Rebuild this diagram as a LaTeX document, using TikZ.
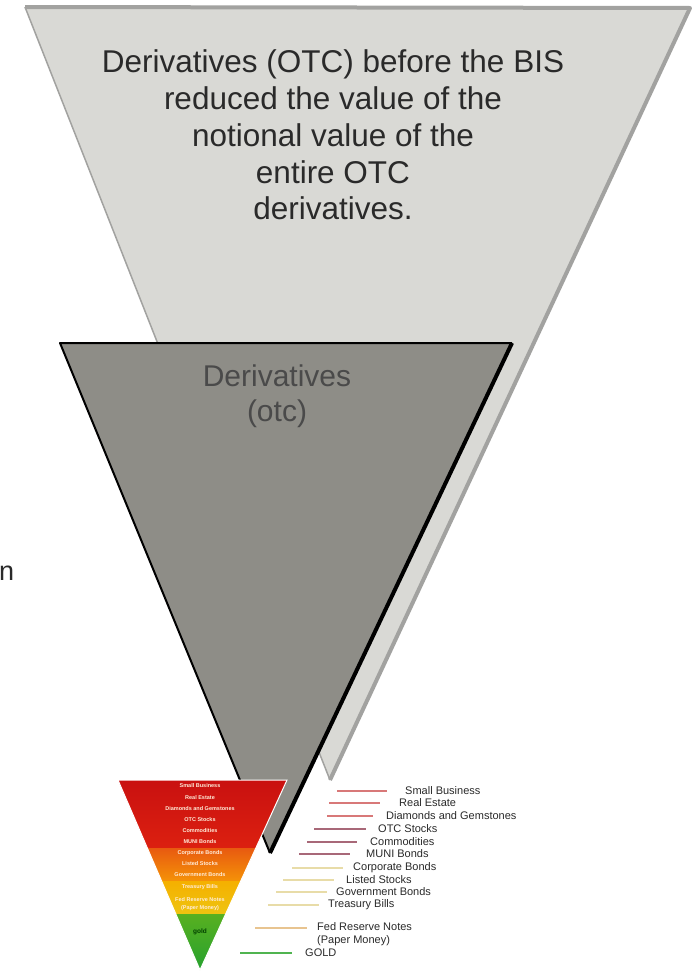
\documentclass[tikz,border=0pt]{standalone}
\usepackage{fontspec}
\setmainfont{Liberation Sans}
\usetikzlibrary{shapes,arrows}

\definecolor{paleGray}{HTML}{D9D9D5}
\definecolor{edgeGray}{HTML}{A2A2A0}
\definecolor{slateGray}{HTML}{8E8D87}
\definecolor{inkGray}{HTML}{2A2A2A}
\definecolor{bandRedA}{HTML}{C81010}
\definecolor{bandRedB}{HTML}{DC2010}
\definecolor{bandOrA}{HTML}{E85A10}
\definecolor{bandOrB}{HTML}{F59208}
\definecolor{bandYeA}{HTML}{F5B000}
\definecolor{bandYeB}{HTML}{EEC410}
\definecolor{bandGrA}{HTML}{58B020}
\definecolor{bandGrB}{HTML}{22A030}
\definecolor{legRed}{HTML}{D87878}
\definecolor{legMauve}{HTML}{A86878}
\definecolor{legTan}{HTML}{E8DCA8}
\definecolor{legOrange}{HTML}{E8C490}
\definecolor{legGreen}{HTML}{50B450}

\begin{document}
\begin{tikzpicture}[x=1pt,y=-1pt,
    bigtext/.style={inner sep=0pt, align=center, text=inkGray, font=\fontsize{31.5}{36.75}\selectfont},
    midtext/.style={inner sep=0pt, align=center, text=inkGray!85, font=\fontsize{30}{35}\selectfont},
    bandtext/.style={inner sep=0pt, text=orange!15, font=\fontsize{5.5}{6.5}\selectfont\bfseries},
    legline/.style={line width=2pt},
    legtext/.style={anchor=west, inner sep=0pt, text=inkGray, font=\fontsize{11}{12.5}\selectfont}]
    \useasboundingbox (0,0) rectangle (699,972);
    \fill[white] (0,0) rectangle (699,972);

    \coordinate (LA) at (25,7);
    \coordinate (LB) at (690,8);
    \coordinate (LC) at (330,780);
    \fill[paleGray] (LA) -- (LB) -- (LC) -- cycle;
    \draw[edgeGray, line width=1.5pt] (LC) -- (LA);
    \draw[edgeGray, line width=4pt, line join=round] (LA) -- (LB) -- (LC);

    \coordinate (DA) at (60,343);
    \coordinate (DB) at (512,343);
    \coordinate (DC) at (270,853);
    \fill[slateGray] (DA) -- (DB) -- (DC) -- cycle;
    \draw[black, line width=2pt, line join=round] (DB) -- (DA) -- (DC);
    \draw[black, line width=4pt] (DB) -- (DC);

    \node[bigtext] (bisNote) at (333,135) {Derivatives (OTC) before the BIS\\reduced the value of the\\notional value of the\\entire OTC\\derivatives.};
    \node[midtext] (otcNote) at (277,396) {Derivatives\\(otc)};
    \node[anchor=base west, inner sep=0pt, text=inkGray, font=\fontsize{27}{32}\selectfont] (cutN) at (-1,580) {n};

    \coordinate (PA) at (118,780);
    \coordinate (PB) at (287,780);
    \coordinate (PC) at (200,970);
    \begin{scope}
        \clip (PA) -- (PB) -- (PC) -- cycle;
        \shade[top color=bandRedA, bottom color=bandRedB] (110,776) rectangle (295,848);
        \shade[top color=bandOrA, bottom color=bandOrB] (110,848) rectangle (295,881);
        \shade[top color=bandYeA, bottom color=bandYeB] (110,881) rectangle (295,914);
        \shade[top color=bandGrA, bottom color=bandGrB] (110,914) rectangle (295,975);
    \end{scope}
    \draw[white, line width=1pt] (PA) -- (PB) -- (PC) -- cycle;

    \foreach \yy/\lbl [count=\i] in {786/Small Business, 798/Real Estate, 809/Diamonds and Gemstones,
        820/OTC Stocks, 831/Commodities, 842/MUNI Bonds, 853/Corporate Bonds, 864/Listed Stocks,
        875/Government Bonds, 887/Treasury Bills, 900/Fed Reserve Notes, 908/(Paper Money)}
        \node[bandtext] (band\i) at (200,\yy) {\lbl};
    \node[bandtext, text=green!25!black, font=\fontsize{6.5}{7}\selectfont\bfseries] (bandGold) at (200,932) {gold};

    \foreach \xa/\xb/\yy/\tx/\cc/\lbl [count=\i] in {
        337/387/791/405/legRed/Small Business,
        329/380/803/399/legRed/Real Estate,
        327/373/816/386/legRed/Diamonds and Gemstones,
        314/366/829/378/legMauve/OTC Stocks,
        307/357/842/370/legMauve/Commodities,
        299/350/854/366/legMauve/MUNI Bonds,
        292/343/868/353/legTan/Corporate Bonds,
        283/334/880/346/legTan/Listed Stocks,
        276/327/892/336/legTan/Government Bonds,
        268/319/905/328/legTan/Treasury Bills,
        240/292/953/305/legGreen/GOLD}
    {
        \node[legtext] (leg\i) at (\tx,\yy) {\lbl};
        \draw[legline, \cc] (\xa,\yy) -- (\xb,\yy);
    }
    \node[legtext, align=left] (legFed) at (317,934) {Fed Reserve Notes\\(Paper Money)};
    \draw[legline, legOrange] (255,928) -- (307,928);
\end{tikzpicture}
\end{document}
